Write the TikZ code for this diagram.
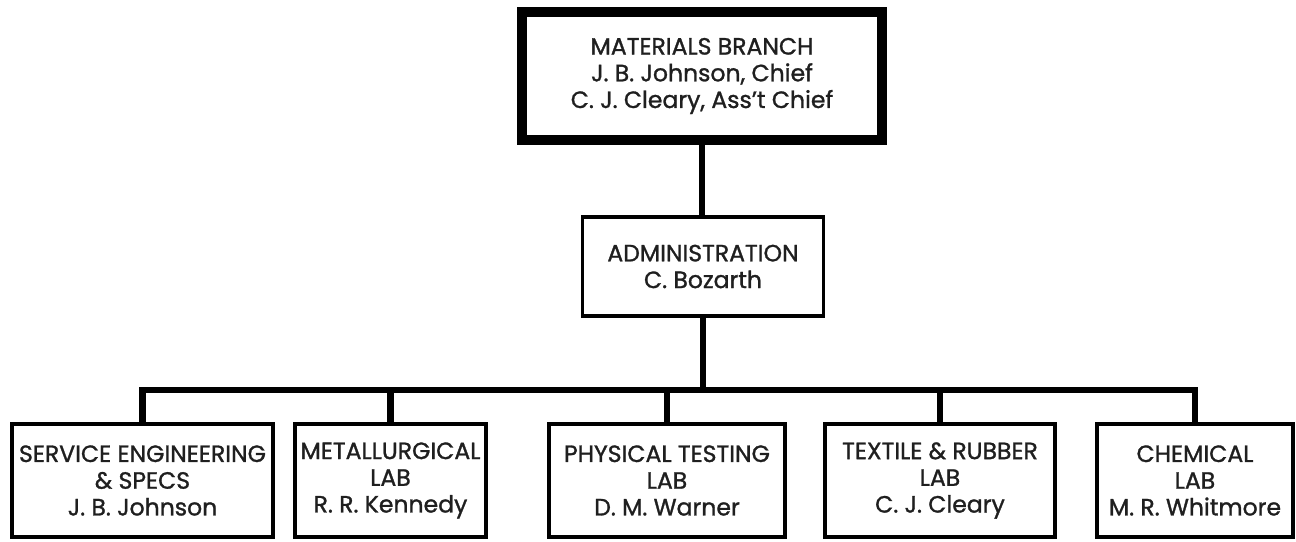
\documentclass[tikz,border=0pt]{standalone}
\usepackage{fontspec}
\setmainfont{Poppins}[FakeBold=1.2]
\begin{document}
\begin{tikzpicture}[
	unit/.style={draw, line width=0.07cm, align=center, inner sep=0pt, minimum height=2.26cm},
	link/.style={line width=0.13cm, line join=miter},
	font=\fontsize{13.4}{15.2}\selectfont, text=black!88]
	\useasboundingbox (0,0) rectangle (25.92,10.82);
	%branch + admin
		\node[unit, line width=0.2cm, minimum width=7.2cm, minimum height=2.56cm] (branch) at (14.04,9.30)
			{MATERIALS BRANCH\\J. B. Johnson, Chief\\C. J. Cleary, Ass't Chief};
		\node[unit, minimum width=4.82cm, minimum height=1.98cm] (admin) at (14.06,5.49)
			{ADMINISTRATION\\C. Bozarth};
	%labs
		\node[unit, minimum width=5.22cm] (eng) at (2.85,1.21) {SERVICE ENGINEERING\\\& SPECS\\J. B. Johnson};
		\node[unit, minimum width=3.82cm] (metal) at (7.81,1.21) {METALLURGICAL\\LAB\\R. R. Kennedy};
		\node[unit, minimum width=4.72cm] (phys) at (13.34,1.21) {PHYSICAL TESTING\\LAB\\D. M. Warner};
		\node[unit, minimum width=4.60cm] (textile) at (18.80,1.21) {TEXTILE \& RUBBER\\LAB\\C. J. Cleary};
		\node[unit, minimum width=3.92cm] (chem) at (23.90,1.21) {CHEMICAL\\LAB\\M. R. Whitmore};
	%lines
		\coordinate (bus) at (14.04,3.02);
		\draw[link] (branch.south) -- (branch.south |- admin.north);
		\draw[link] (admin.south) -- (admin.south |- bus);
		\draw[link] (eng.north) -- (eng.north |- bus) -- (chem.north |- bus) -- (chem.north);
		\foreach \lab in {metal,phys,textile}
			\draw[link] (\lab.north |- bus) -- (\lab.north);
\end{tikzpicture}
\end{document}
